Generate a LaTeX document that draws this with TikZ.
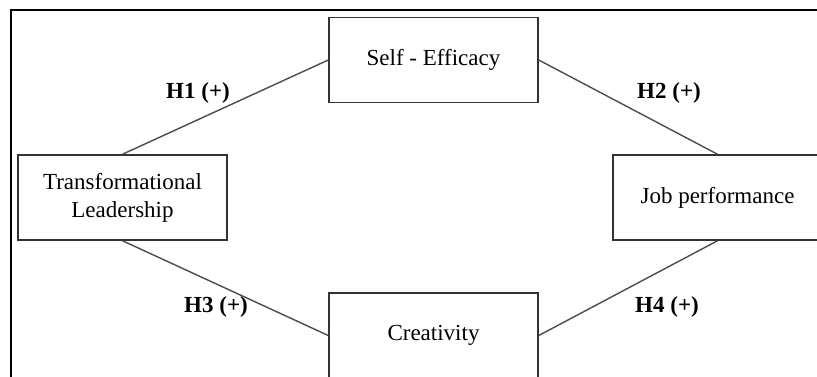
\documentclass[tikz,border=0pt]{standalone}
\usepackage{fontspec}
\setmainfont{Liberation Serif}
\begin{document}
\begin{tikzpicture}[x=1pt,y=-1pt,
  box/.style={draw=black!80, line width=1.5pt, rectangle, minimum width=209pt, minimum height=85pt, inner sep=0pt, align=center, font=\fontsize{23}{28}\selectfont},
  link/.style={draw=black!70, line width=1.4pt},
  hyp/.style={font=\fontsize{23}{28}\selectfont\bfseries}]
\useasboundingbox (0,0) rectangle (817,376);
\clip (0,0) rectangle (817,376);
\fill[white] (0,0) rectangle (817,376);
\draw[line width=2.6pt, black] (11,400) -- (11,10) -- (830,10);
\node[box] (se) at (433.5,60) {Self - Efficacy};
\node[box] (tl) at (122.5,197.5) {Transformational\\Leadership};
\node[box] (jp) at (717.5,197.5) {Job performance};
\node[box] (cr) at (433.5,335.5) {Creativity};
\draw[link] (tl.north) -- (se.west);
\draw[link] (se.east) -- (jp.north);
\draw[link] (tl.south) -- (cr.west);
\draw[link] (jp.south) -- (cr.east);
\node[hyp] (h1) at (198,93) {H1 (+)};
\node[hyp] (h2) at (669,93) {H2 (+)};
\node[hyp] (h3) at (216,307) {H3 (+)};
\node[hyp] (h4) at (667,307) {H4 (+)};
\end{tikzpicture}
\end{document}
